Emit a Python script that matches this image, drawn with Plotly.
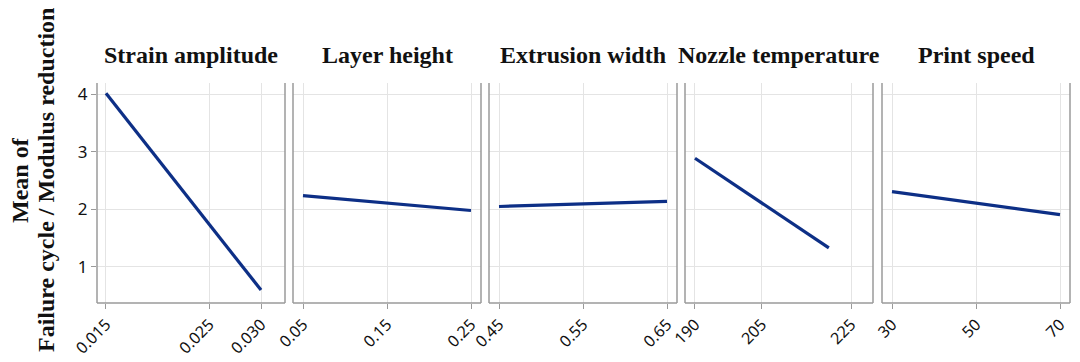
import plotly.graph_objects as go

factors = ["Strain amplitude", "Layer height", "Extrusion width", "Nozzle temperature", "Print speed"]
levels = [[0.015, 0.030], [0.05, 0.25], [0.45, 0.65], [190, 220], [30, 70]]
means = [[4.02, 0.595], [2.24, 1.98], [2.05, 2.14], [2.89, 1.33], [2.31, 1.91]]
tickvals = [[0.015, 0.025, 0.030], [0.05, 0.15, 0.25], [0.45, 0.55, 0.65], [190, 205, 225], [30, 50, 70]]
ticktext = [["0.015", "0.025", "0.030"], ["0.05", "0.15", "0.25"], ["0.45", "0.55", "0.65"],
            ["190", "205", "225"], ["30", "50", "70"]]
xranges = [[0.01413, 0.03232], [0.0381, 0.2619], [0.4381, 0.6619], [187.76, 229.9], [27.62, 72.38]]
yticks = [1, 2, 3, 4]
ytitle_lines = ["Mean of", "Failure cycle / Modulus reduction"]

W, H = 1080, 362
ML, MR, MT, MB = 97, 10, 83, 59
PW = W - ML - MR
PH = H - MT - MB
panel_px = [(97, 285), (293, 481), (489, 677), (685, 873), (882, 1070)]

fig = go.Figure()
layout = dict(
    width=W, height=H,
    margin=dict(l=ML, r=MR, t=MT, b=MB, autoexpand=False),
    plot_bgcolor="white", paper_bgcolor="white",
    showlegend=False,
)
shapes = []
annotations = []
gridc = "#e4e4e4"
framec = "#9a9a9a"
tickfont = dict(family="Noto Sans, Open Sans, sans-serif", size=16, color="#111111")
serif = "Liberation Serif, Times New Roman, serif"

for i in range(5):
    n = "" if i == 0 else str(i + 1)
    xa, ya = "x" + n, "y" + n
    fig.add_trace(go.Scatter(
        x=levels[i], y=means[i], mode="lines",
        line=dict(color="#0d2f86", width=3.2),
        xaxis=xa, yaxis=ya, hoverinfo="skip",
    ))
    d0 = (panel_px[i][0] - ML) / PW
    d1 = (panel_px[i][1] - ML) / PW
    layout["xaxis" + n] = dict(
        domain=[d0, d1], anchor=ya, range=xranges[i],
        tickmode="array", tickvals=tickvals[i], ticktext=ticktext[i],
        tickangle=-45, tickfont=tickfont, automargin=False,
        showgrid=True, gridcolor=gridc, gridwidth=1,
        zeroline=False, showline=False,
        ticks="outside", ticklen=5, tickcolor=framec,
    )
    layout["yaxis" + n] = dict(
        domain=[0, 1], anchor=xa, range=[0.37, 4.2],
        tickmode="array", tickvals=yticks, automargin=False,
        showticklabels=(i == 0),
        tickfont=dict(family="Noto Sans, Open Sans, sans-serif", size=17, color="#111111"),
        ticks="outside" if i == 0 else "", ticklen=5, tickcolor=framec,
        showgrid=True, gridcolor=gridc, gridwidth=1,
        zeroline=False, showline=False,
    )
    xd = xa + " domain"
    yd = ya + " domain"
    for (x0, y0, x1, y1) in [(0, 0, 0, 1), (1, 0, 1, 1), (0, 0, 1, 0)]:
        shapes.append(dict(type="line", xref=xd, yref=yd, x0=x0, y0=y0, x1=x1, y1=y1,
                           line=dict(color=framec, width=1.5)))
    annotations.append(dict(
        text="<b>" + factors[i] + "</b>", xref="paper", yref="paper",
        x=(d0 + d1) / 2, y=(H - MB - 55) / PH,
        xanchor="center", yanchor="middle", showarrow=False,
        font=dict(family=serif, size=24, color="#111111"),
    ))

for j, (txt, xc) in enumerate(zip(ytitle_lines, [20, 46])):
    annotations.append(dict(
        text="<b>" + txt + "</b>",
        xref="paper", yref="paper",
        x=(xc - ML) / PW, y=(H - MB - 180) / PH,
        xanchor="center", yanchor="middle", showarrow=False, textangle=-90,
        font=dict(family=serif, size=24, color="#111111"),
    ))

layout["shapes"] = shapes
layout["annotations"] = annotations
fig.update_layout(**layout)
fig.write_html("out.html")
